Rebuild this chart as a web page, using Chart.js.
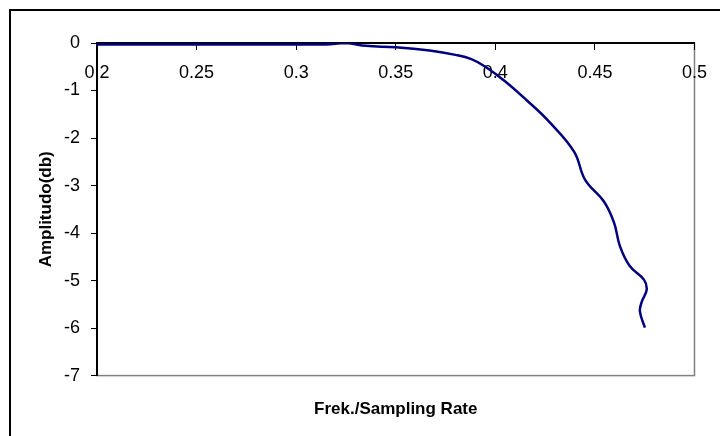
<!DOCTYPE html>
<html>
<head>
<meta charset="utf-8">
<script src="https://cdn.jsdelivr.net/npm/chart.js@4"></script>
<style>
  body { margin: 0; background: #fff; }
  canvas { display: block; }
</style>
</head>
<body>
<canvas id="chart" width="720" height="436"></canvas>
<script>
// data
const freq = [0.2, 0.22, 0.24, 0.26, 0.28, 0.3, 0.315, 0.325, 0.335, 0.35, 0.367, 0.38, 0.388, 0.395,
  0.405, 0.4156, 0.4271, 0.4396, 0.4451, 0.4546, 0.4596, 0.4626, 0.4676, 0.4746, 0.476, 0.4736, 0.4726, 0.4751]
const amp = [-0.03, -0.03, -0.03, -0.03, -0.03, -0.03, -0.03, 0, -0.06, -0.09, -0.16, -0.25, -0.34, -0.5,
  -0.81, -1.2, -1.66, -2.29, -2.88, -3.34, -3.78, -4.28, -4.7, -4.98, -5.19, -5.44, -5.65, -5.99]

const xTicks = [0.2, 0.25, 0.3, 0.35, 0.4, 0.45, 0.5]
const xTickLabels = ['0.2', '0.25', '0.3', '0.35', '0.4', '0.45', '0.5']
const yTicks = [0, -1, -2, -3, -4, -5, -6, -7]

const points = freq.map((f, i) => ({ x: f, y: amp[i] }))

const FONT = 'Arial, "Liberation Sans", sans-serif'

// frame + grey plot border (axes draw over left/top)
const frame = {
  id: 'frame',
  beforeDraw(chart) {
    const c = chart.ctx
    const a = chart.chartArea
    c.save()
    c.fillStyle = '#fff'
    c.fillRect(0, 0, chart.width, chart.height)
    c.strokeStyle = '#000'
    c.lineWidth = 2
    c.strokeRect(10, 10, chart.width, chart.height)
    c.strokeStyle = '#808080'
    c.lineWidth = 1.5
    c.strokeRect(a.left, a.top, a.right - a.left, a.bottom - a.top)
    c.restore()
  }
}

new Chart(document.getElementById('chart'), {
  type: 'scatter',
  data: {
    datasets: [{
      data: points,
      showLine: true,
      borderColor: '#000080',
      borderWidth: 2.5,
      pointRadius: 0,
      tension: 0.4,
      fill: false
    }]
  },
  options: {
    responsive: false,
    animation: false,
    layout: { padding: { top: 43, right: 22, left: 0, bottom: 0 } },
    plugins: {
      legend: { display: false },
      tooltip: { enabled: false },
      title: {
        display: true,
        position: 'bottom',
        fullSize: false,
        text: 'Frek./Sampling Rate',
        color: '#000',
        font: { family: FONT, size: 17, weight: 'bold' },
        padding: { top: 24, bottom: 16 }
      }
    },
    scales: {
      x: {
        type: 'linear',
        position: { y: 0 },
        min: 0.2,
        max: 0.5,
        afterBuildTicks: (s) => { s.ticks = xTicks.map(v => ({ value: v })) },
        ticks: {
          color: '#000',
          font: { family: FONT, size: 18 },
          padding: 13,
          maxRotation: 0,
          callback: (v, i) => xTickLabels[i]
        },
        grid: { drawOnChartArea: false, drawTicks: true, tickLength: 6, color: '#000', lineWidth: 1 },
        border: { color: '#000', width: 2 }
      },
      y: {
        type: 'linear',
        position: 'left',
        min: -7,
        max: 0,
        afterBuildTicks: (s) => { s.ticks = yTicks.map(v => ({ value: v })) },
        afterFit: (s) => { s.width = 97 },
        ticks: {
          color: '#000',
          font: { family: FONT, size: 18 },
          padding: 11
        },
        grid: { drawOnChartArea: false, drawTicks: true, tickLength: 6, color: '#000', lineWidth: 1 },
        border: { color: '#000', width: 2 },
        title: {
          display: true,
          text: 'Amplitudo(db)',
          color: '#000',
          font: { family: FONT, size: 17, weight: 'bold' },
          padding: { top: 36, bottom: 0 }
        }
      }
    }
  },
  plugins: [frame]
})
</script>
</body>
</html>
